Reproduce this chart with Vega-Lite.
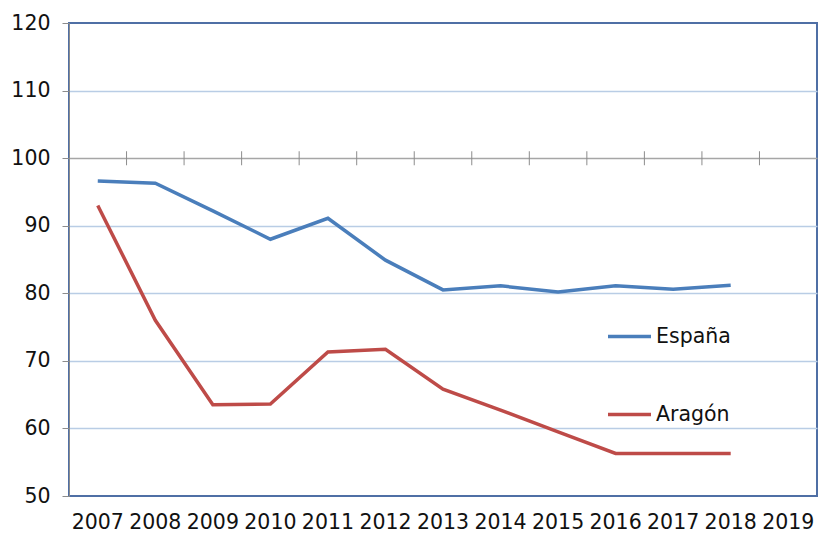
{
  "$schema": "https://vega.github.io/schema/vega-lite/v6.json",
  "autosize": "none",
  "width": 748,
  "height": 473,
  "padding": {"left": 69, "top": 23, "right": 1, "bottom": 39},
  "config": {
    "font": "DejaVu Sans",
    "view": {"stroke": "#4f6fa5", "strokeWidth": 2}
  },
  "data": {
    "values": [
      {"year": "2007", "serie": "España", "valor": 96.6},
      {"year": "2008", "serie": "España", "valor": 96.3},
      {"year": "2009", "serie": "España", "valor": 92.2},
      {"year": "2010", "serie": "España", "valor": 88.0},
      {"year": "2011", "serie": "España", "valor": 91.1},
      {"year": "2012", "serie": "España", "valor": 84.9},
      {"year": "2013", "serie": "España", "valor": 80.5},
      {"year": "2014", "serie": "España", "valor": 81.1},
      {"year": "2015", "serie": "España", "valor": 80.2},
      {"year": "2016", "serie": "España", "valor": 81.1},
      {"year": "2017", "serie": "España", "valor": 80.6},
      {"year": "2018", "serie": "España", "valor": 81.2},
      {"year": "2007", "serie": "Aragón", "valor": 93.0},
      {"year": "2008", "serie": "Aragón", "valor": 76.0},
      {"year": "2009", "serie": "Aragón", "valor": 63.5},
      {"year": "2010", "serie": "Aragón", "valor": 63.6},
      {"year": "2011", "serie": "Aragón", "valor": 71.3},
      {"year": "2012", "serie": "Aragón", "valor": 71.7},
      {"year": "2013", "serie": "Aragón", "valor": 65.8},
      {"year": "2014", "serie": "Aragón", "valor": 62.7},
      {"year": "2015", "serie": "Aragón", "valor": 59.5},
      {"year": "2016", "serie": "Aragón", "valor": 56.3},
      {"year": "2017", "serie": "Aragón", "valor": 56.3},
      {"year": "2018", "serie": "Aragón", "valor": 56.3}
    ]
  },
  "layer": [
    {
      "transform": [{"filter": "datum.serie == 'Aragón'"}],
      "mark": {"type": "tick", "orient": "vertical", "size": 14, "thickness": 1, "color": "#8c8c8c", "opacity": 1},
      "encoding": {
        "x": {"field": "year", "type": "ordinal", "bandPosition": 1},
        "y": {"datum": 100, "type": "quantitative"}
      }
    },
    {
      "mark": {"type": "line", "strokeWidth": 3.5, "strokeJoin": "miter"},
      "encoding": {
        "x": {
          "field": "year", "type": "ordinal", "bandPosition": 0.5,
          "scale": {"type": "band", "domain": ["2007","2008","2009","2010","2011","2012","2013","2014","2015","2016","2017","2018","2019"], "paddingInner": 0, "paddingOuter": 0},
          "axis": {"title": null, "orient": "bottom", "bandPosition": 0.5, "domain": false, "ticks": false, "labelAngle": 0, "labelAlign": "center", "labelFlush": false, "labelFontSize": 20.5, "labelColor": "#111111", "labelPadding": 26, "grid": false}
        },
        "y": {
          "field": "valor", "type": "quantitative",
          "scale": {"domain": [50, 120], "nice": false, "zero": false},
          "axis": {
            "title": null, "values": [50, 60, 70, 80, 90, 100, 110, 120],
            "domainColor": "#8c8c8c", "domainWidth": 1,
            "tickColor": "#8c8c8c", "tickSize": 7, "labelPadding": 12,
            "labelFontSize": 20.5, "labelColor": "#111111",
            "grid": true,
            "gridColor": {"condition": {"test": "datum.value == 100", "value": "#a6a6a6"}, "value": "#b9cde5"},
            "gridOpacity": {"condition": {"test": "datum.value == 50 || datum.value == 120", "value": 0}, "value": 1},
            "gridWidth": 1.5
          }
        },
        "color": {
          "field": "serie", "type": "nominal",
          "scale": {"domain": ["España", "Aragón"], "range": ["#4a7ebb", "#be4b48"]},
          "legend": {
            "title": null, "orient": "none", "legendX": 537, "legendY": 290,
            "padding": 0, "symbolType": "stroke", "symbolSize": 1849, "symbolStrokeWidth": 3.5,
            "labelFontSize": 20.5, "labelColor": "#111111", "labelOffset": 3, "rowPadding": 44
          }
        }
      }
    }
  ]
}
